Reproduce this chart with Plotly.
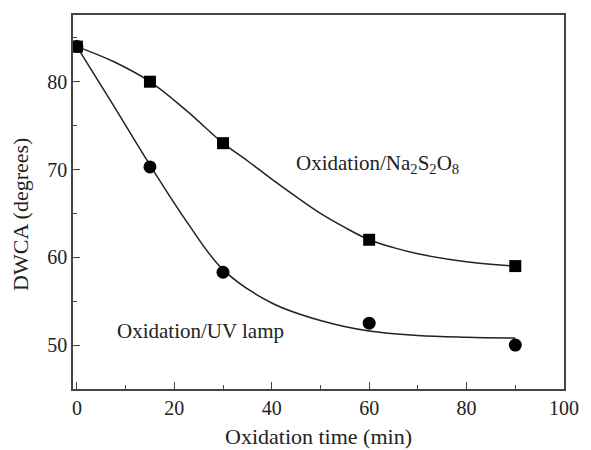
import plotly.graph_objects as go

# measured points
time_min = [0, 15, 30, 60, 90]
dwca_na2s2o8 = [84.0, 80.0, 73.0, 62.0, 59.0]
dwca_uv = [84.0, 70.3, 58.3, 52.5, 50.0]

# fitted curves
fit_time_na = [0, 7.5, 15, 22.5, 30, 35, 40, 45, 50, 55, 60, 65, 70, 80, 90]
fit_na2s2o8 = [84.0, 82.3, 80.0, 76.7, 73.0, 71.0, 68.9, 66.9, 65.0, 63.4, 62.0, 61.1, 60.4, 59.5, 59.0]
fit_time_uv = [0, 7.5, 15, 22.5, 30, 40, 50, 60, 70, 80, 90]
fit_uv = [84.0, 77.3, 70.5, 64.1, 58.6, 54.8, 52.8, 51.6, 51.1, 50.9, 50.8]

x_ticks = [0, 20, 40, 60, 80, 100]
y_ticks = [50, 60, 70, 80]

FONT = "Liberation Serif, Times New Roman, serif"

fig = go.Figure()
fig.add_trace(go.Scatter(x=fit_time_na, y=fit_na2s2o8, mode="lines",
                         line=dict(color="#222", width=1.5, shape="spline", smoothing=1.0),
                         showlegend=False, hoverinfo="skip"))
fig.add_trace(go.Scatter(x=fit_time_uv, y=fit_uv, mode="lines",
                         line=dict(color="#222", width=1.5, shape="spline"),
                         showlegend=False, hoverinfo="skip"))
fig.add_trace(go.Scatter(x=time_min, y=dwca_na2s2o8, mode="markers",
                         marker=dict(symbol="square", size=12, color="black"),
                         name="Oxidation/Na2S2O8", showlegend=False))
fig.add_trace(go.Scatter(x=time_min, y=dwca_uv, mode="markers",
                         marker=dict(symbol="circle", size=13, color="black"),
                         name="Oxidation/UV lamp", showlegend=False))

axis_common = dict(showline=True, linecolor="#444", linewidth=1.5, mirror=True,
                   ticks="inside", ticklen=7, tickwidth=1.2, tickcolor="#444",
                   showgrid=False, zeroline=False,
                   tickfont=dict(family=FONT, size=20, color="#222"))

fig.update_layout(
    width=591, height=450,
    margin=dict(l=73, r=17, t=15, b=61),
    paper_bgcolor="white", plot_bgcolor="white",
    font=dict(family=FONT, color="#222"),
    xaxis=dict(range=[-0.8, 100], tickvals=x_ticks,
               minor=dict(dtick=10, ticks="inside", ticklen=4, tickcolor="#444"),
               **axis_common),
    yaxis=dict(range=[45, 87.6], tickvals=y_ticks,
               minor=dict(dtick=5, ticks="inside", ticklen=4, tickcolor="#444"),
               **axis_common),
    annotations=[
        dict(text="Oxidation time (min)", xref="paper", yref="paper", x=0.5, y=-0.128,
             xanchor="center", yanchor="middle", showarrow=False,
             font=dict(family=FONT, size=22, color="#222")),
        dict(text="DWCA (degrees)", xref="paper", yref="paper", x=-0.106, y=0.468,
             xanchor="center", yanchor="middle", showarrow=False, textangle=-90,
             font=dict(family=FONT, size=22, color="#222")),
        dict(text="Oxidation/Na<sub>2</sub>S<sub>2</sub>O<sub>8</sub>", x=61.7, y=70.6,
             xanchor="center", yanchor="middle", showarrow=False,
             font=dict(family=FONT, size=21, color="#222")),
        dict(text="Oxidation/UV lamp", x=25.3, y=51.6,
             xanchor="center", yanchor="middle", showarrow=False,
             font=dict(family=FONT, size=21, color="#222")),
    ],
)

fig.write_html("out.html")
